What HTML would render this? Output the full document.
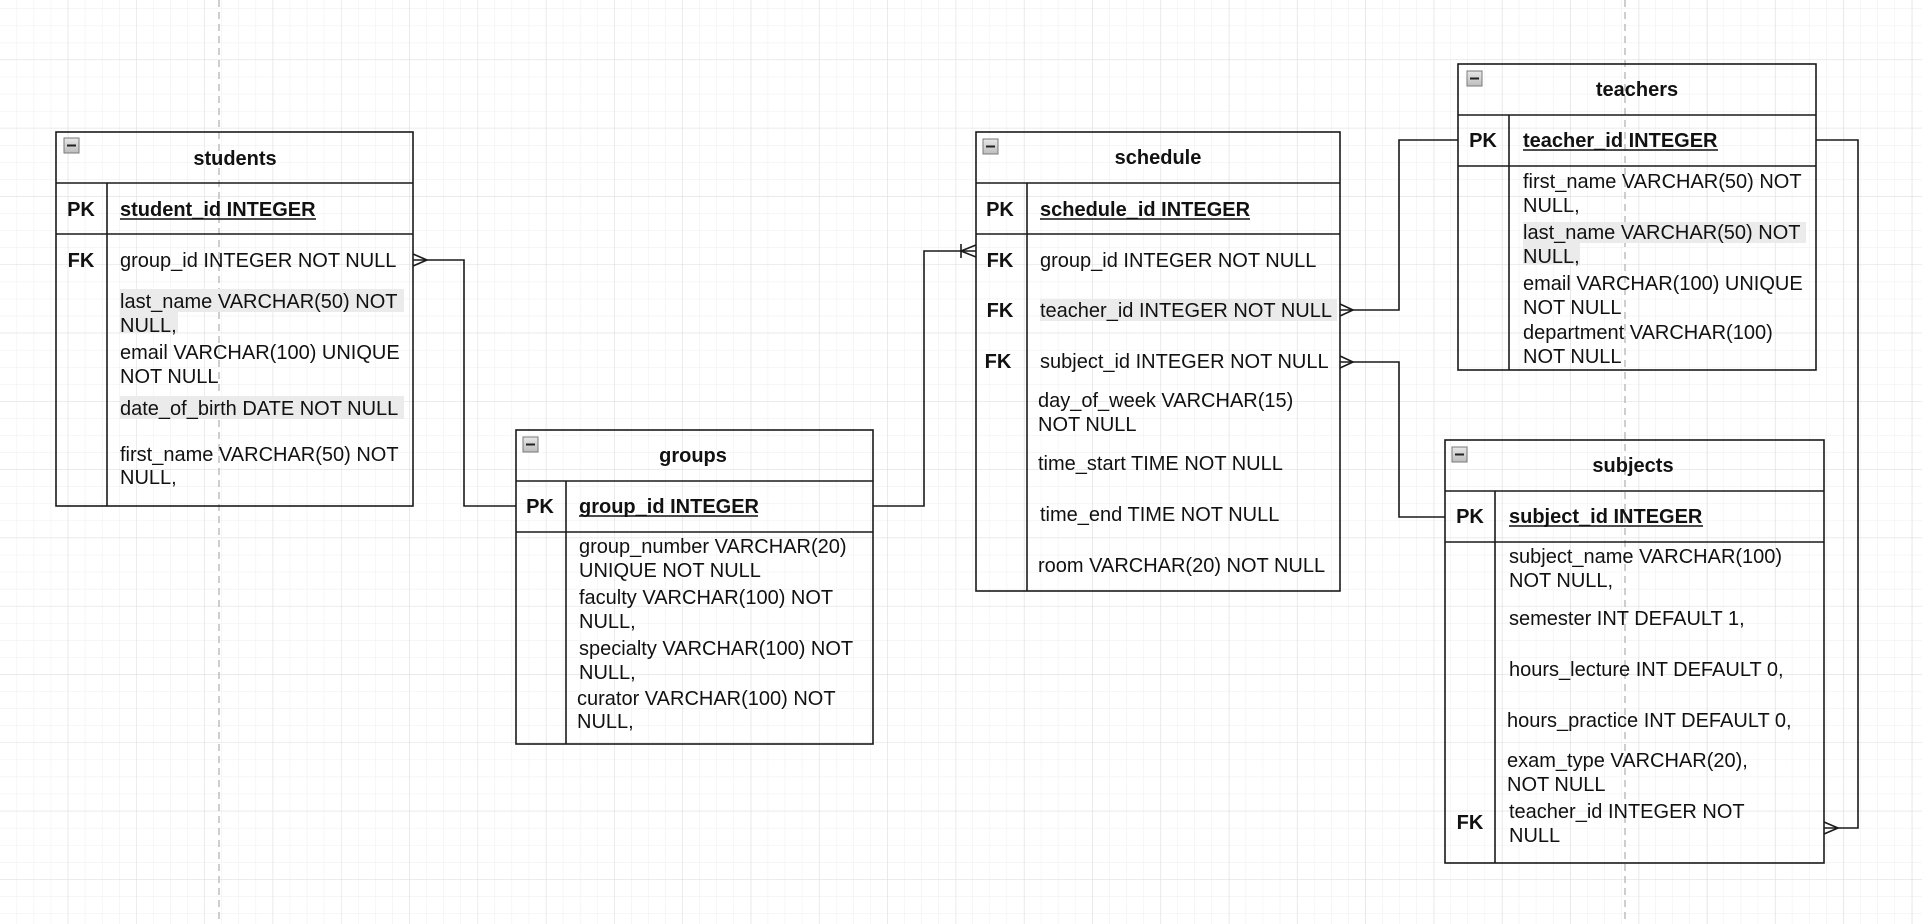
<!DOCTYPE html>
<html><head><meta charset="utf-8"><style>
html,body{margin:0;padding:0;background:#fff;}
svg{display:block;}
text{font-family:"Liberation Sans",Arial,sans-serif;font-size:20px;fill:#111;}
.b{font-weight:bold;}
.m{text-anchor:middle;}
</style></head><body>
<svg width="1922" height="924" viewBox="0 0 1922 924" xmlns="http://www.w3.org/2000/svg">
<defs>
<pattern id="gm" width="17.07" height="17.07" patternUnits="userSpaceOnUse" x="0" y="9">
<path d="M17.07 0V17.07M0 17.07H17.07" fill="none" stroke="#eeeeee" stroke-width="1"/>
</pattern>
<pattern id="gM" width="68.3" height="68.3" patternUnits="userSpaceOnUse" x="0" y="60">
<path d="M68.3 0V68.3M0 68.3H68.3" fill="none" stroke="#dedede" stroke-width="1"/>
</pattern>
<linearGradient id="ig" x1="0" y1="0" x2="0" y2="1"><stop offset="0" stop-color="#e8e8e8"/><stop offset="1" stop-color="#bdbdbd"/></linearGradient>
<g id="icon"><rect x="0" y="0" width="15" height="15" fill="url(#ig)" stroke="#7a7a7a" stroke-width="1"/><rect x="3" y="6.5" width="9" height="2" fill="#222"/></g>
</defs>
<rect width="1922" height="924" fill="#fff"/>
<rect width="1922" height="924" fill="url(#gm)"/>
<rect width="1922" height="924" fill="url(#gM)"/>
<line x1="219" y1="0" x2="219" y2="924" stroke="#bdbdbd" stroke-width="1.5" stroke-dasharray="7,5"/>
<line x1="1625" y1="0" x2="1625" y2="924" stroke="#bdbdbd" stroke-width="1.5" stroke-dasharray="7,5"/>

<g fill="none" stroke="#1a1a1a" stroke-width="1.6">
<polyline points="413,260 464,260 464,506 516,506"/>
<polyline points="413,254 427,260 413,266"/>
<polyline points="873,506 924,506 924,251 976,251"/>
<polyline points="976,245 961,251 976,257"/>
<line x1="961" y1="244" x2="961" y2="258"/>
<polyline points="1340,310 1399,310 1399,140 1458,140"/>
<polyline points="1340,304 1353,310 1340,316"/>
<polyline points="1340,362 1399,362 1399,517 1445,517"/>
<polyline points="1340,356 1353,362 1340,368"/>
<polyline points="1824,828 1858,828 1858,140 1816,140"/>
<polyline points="1824,822 1838,828 1824,834"/>
</g>

<g fill="#ebebeb">
<rect x="120" y="289" width="284" height="23"/><rect x="120" y="312" width="58" height="21"/>
<rect x="120" y="396" width="284" height="23"/>
<rect x="1040" y="299" width="297" height="22"/>
<rect x="1523" y="222" width="283" height="21"/><rect x="1523" y="243" width="57" height="22"/>
</g>

<g fill="none" stroke="#1a1a1a" stroke-width="1.6">
<rect x="56" y="132" width="357" height="374"/>
<line x1="56" y1="183" x2="413" y2="183"/><line x1="56" y1="234" x2="413" y2="234"/>
<line x1="107" y1="183" x2="107" y2="506"/>
<rect x="516" y="430" width="357" height="314"/>
<line x1="516" y1="481" x2="873" y2="481"/><line x1="516" y1="532" x2="873" y2="532"/>
<line x1="566" y1="481" x2="566" y2="744"/>
<rect x="976" y="132" width="364" height="459"/>
<line x1="976" y1="183" x2="1340" y2="183"/><line x1="976" y1="234" x2="1340" y2="234"/>
<line x1="1027" y1="183" x2="1027" y2="591"/>
<rect x="1458" y="64" width="358" height="306"/>
<line x1="1458" y1="115" x2="1816" y2="115"/><line x1="1458" y1="166" x2="1816" y2="166"/>
<line x1="1509" y1="115" x2="1509" y2="370"/>
<rect x="1445" y="440" width="379" height="423"/>
<line x1="1445" y1="491" x2="1824" y2="491"/><line x1="1445" y1="542" x2="1824" y2="542"/>
<line x1="1495" y1="491" x2="1495" y2="863"/>
</g>

<use href="#icon" x="64" y="138"/>
<use href="#icon" x="523" y="437"/>
<use href="#icon" x="983" y="139"/>
<use href="#icon" x="1467" y="71"/>
<use href="#icon" x="1452" y="447"/>

<text class="b m" x="235" y="165">students</text>
<text class="b m" x="81" y="216">PK</text>
<text class="b" x="120" y="216">student_id INTEGER</text>
<line x1="120" y1="219" x2="316" y2="219" stroke="#111" stroke-width="1.5"/>
<text class="b m" x="81" y="267">FK</text>
<text x="120" y="267">group_id INTEGER NOT NULL</text>
<text x="120" y="308">last_name VARCHAR(50) NOT</text>
<text x="120" y="332">NULL,</text>
<text x="120" y="359">email VARCHAR(100) UNIQUE</text>
<text x="120" y="383">NOT NULL</text>
<text x="120" y="415">date_of_birth DATE NOT NULL</text>
<text x="120" y="461">first_name VARCHAR(50) NOT</text>
<text x="120" y="484">NULL,</text>

<text class="b m" x="693" y="462">groups</text>
<text class="b m" x="540" y="513">PK</text>
<text class="b" x="579" y="513">group_id INTEGER</text>
<line x1="579" y1="516" x2="758" y2="516" stroke="#111" stroke-width="1.5"/>
<text x="579" y="553">group_number VARCHAR(20)</text>
<text x="579" y="577">UNIQUE NOT NULL</text>
<text x="579" y="604">faculty VARCHAR(100) NOT</text>
<text x="579" y="628">NULL,</text>
<text x="579" y="655">specialty VARCHAR(100) NOT</text>
<text x="579" y="679">NULL,</text>
<text x="577" y="705">curator VARCHAR(100) NOT</text>
<text x="577" y="728">NULL,</text>

<text class="b m" x="1158" y="164">schedule</text>
<text class="b m" x="1000" y="216">PK</text>
<text class="b" x="1040" y="216">schedule_id INTEGER</text>
<line x1="1040" y1="219" x2="1250" y2="219" stroke="#111" stroke-width="1.5"/>
<text class="b m" x="1000" y="267">FK</text>
<text x="1040" y="267">group_id INTEGER NOT NULL</text>
<text class="b m" x="1000" y="317">FK</text>
<text x="1040" y="317">teacher_id INTEGER NOT NULL</text>
<text class="b m" x="998" y="368">FK</text>
<text x="1040" y="368">subject_id INTEGER NOT NULL</text>
<text x="1038" y="407">day_of_week VARCHAR(15)</text>
<text x="1038" y="431">NOT NULL</text>
<text x="1038" y="470">time_start TIME NOT NULL</text>
<text x="1040" y="521">time_end TIME NOT NULL</text>
<text x="1038" y="572">room VARCHAR(20) NOT NULL</text>

<text class="b m" x="1637" y="96">teachers</text>
<text class="b m" x="1483" y="147">PK</text>
<text class="b" x="1523" y="147">teacher_id INTEGER</text>
<line x1="1523" y1="150" x2="1718" y2="150" stroke="#111" stroke-width="1.5"/>
<text x="1523" y="188">first_name VARCHAR(50) NOT</text>
<text x="1523" y="212">NULL,</text>
<text x="1523" y="239">last_name VARCHAR(50) NOT</text>
<text x="1523" y="263">NULL,</text>
<text x="1523" y="290">email VARCHAR(100) UNIQUE</text>
<text x="1523" y="314">NOT NULL</text>
<text x="1523" y="339">department VARCHAR(100)</text>
<text x="1523" y="363">NOT NULL</text>

<text class="b m" x="1633" y="472">subjects</text>
<text class="b m" x="1470" y="523">PK</text>
<text class="b" x="1509" y="523">subject_id INTEGER</text>
<line x1="1509" y1="526" x2="1703" y2="526" stroke="#111" stroke-width="1.5"/>
<text x="1509" y="563">subject_name VARCHAR(100)</text>
<text x="1509" y="587">NOT NULL,</text>
<text x="1509" y="625">semester INT DEFAULT 1,</text>
<text x="1509" y="676">hours_lecture INT DEFAULT 0,</text>
<text x="1507" y="727">hours_practice INT DEFAULT 0,</text>
<text x="1507" y="767">exam_type VARCHAR(20),</text>
<text x="1507" y="791">NOT NULL</text>
<text class="b m" x="1470" y="829">FK</text>
<text x="1509" y="818">teacher_id INTEGER NOT</text>
<text x="1509" y="842">NULL</text>
</svg>
</body></html>
